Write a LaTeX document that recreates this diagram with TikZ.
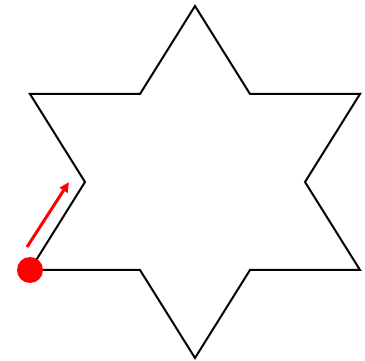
\documentclass[tikz,border=0pt]{standalone}
\usetikzlibrary{arrows.meta}
\begin{document}
\begin{tikzpicture}[
    x=1pt, y=-1pt,
    star/.style={draw=black, line width=2pt, line join=miter},
    turtle/.style={circle, fill=red, inner sep=0pt, minimum size=26pt},
    heading/.style={-{Triangle[length=10pt, width=9pt]}, draw=red, line width=3pt}
]
\useasboundingbox (0,0) rectangle (365,361);
% six-pointed star
\draw[star] (30,270) -- (140,270) -- (195,358) -- (250,270) -- (360,270)
    -- (305,182) -- (360,94) -- (250,94) -- (195,6) -- (140,94)
    -- (30,94) -- (85,182) -- cycle;
% turtle and its heading
\node[turtle] (pos) at (30,270) {};
\coordinate (tail) at (27,247);
\coordinate (head) at (69,182);
\draw[heading] (tail) -- (head);
\end{tikzpicture}
\end{document}
